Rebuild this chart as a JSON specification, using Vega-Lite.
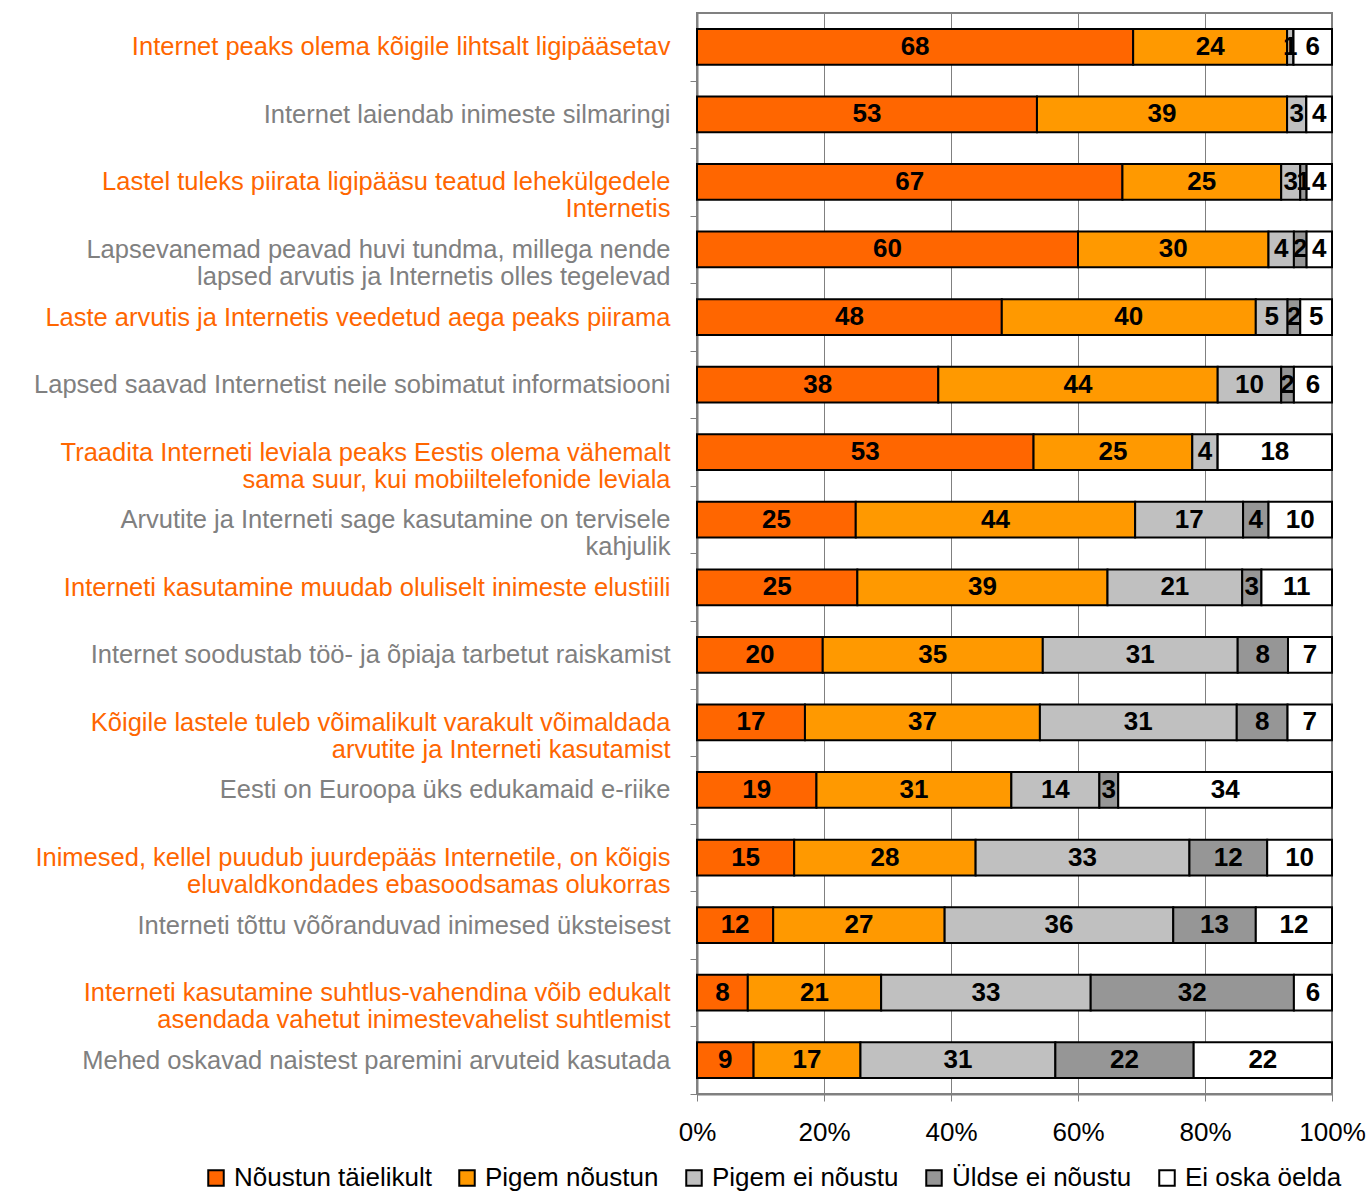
{
  "$schema": "https://vega.github.io/schema/vega-lite/v6.json",
  "width": 635,
  "height": 1081,
  "autosize": {"type": "none"},
  "padding": {"left": 697, "top": 13, "right": 38, "bottom": 100},
  "background": "white",
  "config": {
    "font": "Liberation Sans",
    "view": {"stroke": "#808080", "strokeWidth": 2},
    "legend": {"orient": "none", "legendX": -494, "legendY": 1152, "direction": "horizontal", "columns": 5}
  },
  "datasets": {
    "rows": [
      {"q": "01 Internet peaks olema kõigile lihtsalt ligipääsetav", "cat": "Nõustun täielikult", "k": 1, "v": 68},
      {"q": "01 Internet peaks olema kõigile lihtsalt ligipääsetav", "cat": "Pigem nõustun", "k": 2, "v": 24},
      {"q": "01 Internet peaks olema kõigile lihtsalt ligipääsetav", "cat": "Pigem ei nõustu", "k": 3, "v": 1},
      {"q": "01 Internet peaks olema kõigile lihtsalt ligipääsetav", "cat": "Üldse ei nõustu", "k": 4, "v": 0},
      {"q": "01 Internet peaks olema kõigile lihtsalt ligipääsetav", "cat": "Ei oska öelda", "k": 5, "v": 6},
      {"q": "02 Internet laiendab inimeste silmaringi", "cat": "Nõustun täielikult", "k": 1, "v": 53},
      {"q": "02 Internet laiendab inimeste silmaringi", "cat": "Pigem nõustun", "k": 2, "v": 39},
      {"q": "02 Internet laiendab inimeste silmaringi", "cat": "Pigem ei nõustu", "k": 3, "v": 3},
      {"q": "02 Internet laiendab inimeste silmaringi", "cat": "Üldse ei nõustu", "k": 4, "v": 0},
      {"q": "02 Internet laiendab inimeste silmaringi", "cat": "Ei oska öelda", "k": 5, "v": 4},
      {"q": "03 Lastel tuleks piirata ligipääsu teatud lehekülgedele|Internetis", "cat": "Nõustun täielikult", "k": 1, "v": 67},
      {"q": "03 Lastel tuleks piirata ligipääsu teatud lehekülgedele|Internetis", "cat": "Pigem nõustun", "k": 2, "v": 25},
      {"q": "03 Lastel tuleks piirata ligipääsu teatud lehekülgedele|Internetis", "cat": "Pigem ei nõustu", "k": 3, "v": 3},
      {"q": "03 Lastel tuleks piirata ligipääsu teatud lehekülgedele|Internetis", "cat": "Üldse ei nõustu", "k": 4, "v": 1},
      {"q": "03 Lastel tuleks piirata ligipääsu teatud lehekülgedele|Internetis", "cat": "Ei oska öelda", "k": 5, "v": 4},
      {"q": "04 Lapsevanemad peavad huvi tundma, millega nende|lapsed arvutis ja Internetis olles tegelevad", "cat": "Nõustun täielikult", "k": 1, "v": 60},
      {"q": "04 Lapsevanemad peavad huvi tundma, millega nende|lapsed arvutis ja Internetis olles tegelevad", "cat": "Pigem nõustun", "k": 2, "v": 30},
      {"q": "04 Lapsevanemad peavad huvi tundma, millega nende|lapsed arvutis ja Internetis olles tegelevad", "cat": "Pigem ei nõustu", "k": 3, "v": 4},
      {"q": "04 Lapsevanemad peavad huvi tundma, millega nende|lapsed arvutis ja Internetis olles tegelevad", "cat": "Üldse ei nõustu", "k": 4, "v": 2},
      {"q": "04 Lapsevanemad peavad huvi tundma, millega nende|lapsed arvutis ja Internetis olles tegelevad", "cat": "Ei oska öelda", "k": 5, "v": 4},
      {"q": "05 Laste arvutis ja Internetis veedetud aega peaks piirama", "cat": "Nõustun täielikult", "k": 1, "v": 48},
      {"q": "05 Laste arvutis ja Internetis veedetud aega peaks piirama", "cat": "Pigem nõustun", "k": 2, "v": 40},
      {"q": "05 Laste arvutis ja Internetis veedetud aega peaks piirama", "cat": "Pigem ei nõustu", "k": 3, "v": 5},
      {"q": "05 Laste arvutis ja Internetis veedetud aega peaks piirama", "cat": "Üldse ei nõustu", "k": 4, "v": 2},
      {"q": "05 Laste arvutis ja Internetis veedetud aega peaks piirama", "cat": "Ei oska öelda", "k": 5, "v": 5},
      {"q": "06 Lapsed saavad Internetist neile sobimatut informatsiooni", "cat": "Nõustun täielikult", "k": 1, "v": 38},
      {"q": "06 Lapsed saavad Internetist neile sobimatut informatsiooni", "cat": "Pigem nõustun", "k": 2, "v": 44},
      {"q": "06 Lapsed saavad Internetist neile sobimatut informatsiooni", "cat": "Pigem ei nõustu", "k": 3, "v": 10},
      {"q": "06 Lapsed saavad Internetist neile sobimatut informatsiooni", "cat": "Üldse ei nõustu", "k": 4, "v": 2},
      {"q": "06 Lapsed saavad Internetist neile sobimatut informatsiooni", "cat": "Ei oska öelda", "k": 5, "v": 6},
      {"q": "07 Traadita Interneti leviala peaks Eestis olema vähemalt|sama suur, kui mobiiltelefonide leviala", "cat": "Nõustun täielikult", "k": 1, "v": 53},
      {"q": "07 Traadita Interneti leviala peaks Eestis olema vähemalt|sama suur, kui mobiiltelefonide leviala", "cat": "Pigem nõustun", "k": 2, "v": 25},
      {"q": "07 Traadita Interneti leviala peaks Eestis olema vähemalt|sama suur, kui mobiiltelefonide leviala", "cat": "Pigem ei nõustu", "k": 3, "v": 4},
      {"q": "07 Traadita Interneti leviala peaks Eestis olema vähemalt|sama suur, kui mobiiltelefonide leviala", "cat": "Üldse ei nõustu", "k": 4, "v": 0},
      {"q": "07 Traadita Interneti leviala peaks Eestis olema vähemalt|sama suur, kui mobiiltelefonide leviala", "cat": "Ei oska öelda", "k": 5, "v": 18},
      {"q": "08 Arvutite ja Interneti sage kasutamine on tervisele|kahjulik", "cat": "Nõustun täielikult", "k": 1, "v": 25},
      {"q": "08 Arvutite ja Interneti sage kasutamine on tervisele|kahjulik", "cat": "Pigem nõustun", "k": 2, "v": 44},
      {"q": "08 Arvutite ja Interneti sage kasutamine on tervisele|kahjulik", "cat": "Pigem ei nõustu", "k": 3, "v": 17},
      {"q": "08 Arvutite ja Interneti sage kasutamine on tervisele|kahjulik", "cat": "Üldse ei nõustu", "k": 4, "v": 4},
      {"q": "08 Arvutite ja Interneti sage kasutamine on tervisele|kahjulik", "cat": "Ei oska öelda", "k": 5, "v": 10},
      {"q": "09 Interneti kasutamine muudab oluliselt inimeste elustiili", "cat": "Nõustun täielikult", "k": 1, "v": 25},
      {"q": "09 Interneti kasutamine muudab oluliselt inimeste elustiili", "cat": "Pigem nõustun", "k": 2, "v": 39},
      {"q": "09 Interneti kasutamine muudab oluliselt inimeste elustiili", "cat": "Pigem ei nõustu", "k": 3, "v": 21},
      {"q": "09 Interneti kasutamine muudab oluliselt inimeste elustiili", "cat": "Üldse ei nõustu", "k": 4, "v": 3},
      {"q": "09 Interneti kasutamine muudab oluliselt inimeste elustiili", "cat": "Ei oska öelda", "k": 5, "v": 11},
      {"q": "10 Internet soodustab töö- ja õpiaja tarbetut raiskamist", "cat": "Nõustun täielikult", "k": 1, "v": 20},
      {"q": "10 Internet soodustab töö- ja õpiaja tarbetut raiskamist", "cat": "Pigem nõustun", "k": 2, "v": 35},
      {"q": "10 Internet soodustab töö- ja õpiaja tarbetut raiskamist", "cat": "Pigem ei nõustu", "k": 3, "v": 31},
      {"q": "10 Internet soodustab töö- ja õpiaja tarbetut raiskamist", "cat": "Üldse ei nõustu", "k": 4, "v": 8},
      {"q": "10 Internet soodustab töö- ja õpiaja tarbetut raiskamist", "cat": "Ei oska öelda", "k": 5, "v": 7},
      {"q": "11 Kõigile lastele tuleb võimalikult varakult võimaldada|arvutite ja Interneti kasutamist", "cat": "Nõustun täielikult", "k": 1, "v": 17},
      {"q": "11 Kõigile lastele tuleb võimalikult varakult võimaldada|arvutite ja Interneti kasutamist", "cat": "Pigem nõustun", "k": 2, "v": 37},
      {"q": "11 Kõigile lastele tuleb võimalikult varakult võimaldada|arvutite ja Interneti kasutamist", "cat": "Pigem ei nõustu", "k": 3, "v": 31},
      {"q": "11 Kõigile lastele tuleb võimalikult varakult võimaldada|arvutite ja Interneti kasutamist", "cat": "Üldse ei nõustu", "k": 4, "v": 8},
      {"q": "11 Kõigile lastele tuleb võimalikult varakult võimaldada|arvutite ja Interneti kasutamist", "cat": "Ei oska öelda", "k": 5, "v": 7},
      {"q": "12 Eesti on Euroopa üks edukamaid e-riike", "cat": "Nõustun täielikult", "k": 1, "v": 19},
      {"q": "12 Eesti on Euroopa üks edukamaid e-riike", "cat": "Pigem nõustun", "k": 2, "v": 31},
      {"q": "12 Eesti on Euroopa üks edukamaid e-riike", "cat": "Pigem ei nõustu", "k": 3, "v": 14},
      {"q": "12 Eesti on Euroopa üks edukamaid e-riike", "cat": "Üldse ei nõustu", "k": 4, "v": 3},
      {"q": "12 Eesti on Euroopa üks edukamaid e-riike", "cat": "Ei oska öelda", "k": 5, "v": 34},
      {"q": "13 Inimesed, kellel puudub juurdepääs Internetile, on kõigis|eluvaldkondades ebasoodsamas olukorras", "cat": "Nõustun täielikult", "k": 1, "v": 15},
      {"q": "13 Inimesed, kellel puudub juurdepääs Internetile, on kõigis|eluvaldkondades ebasoodsamas olukorras", "cat": "Pigem nõustun", "k": 2, "v": 28},
      {"q": "13 Inimesed, kellel puudub juurdepääs Internetile, on kõigis|eluvaldkondades ebasoodsamas olukorras", "cat": "Pigem ei nõustu", "k": 3, "v": 33},
      {"q": "13 Inimesed, kellel puudub juurdepääs Internetile, on kõigis|eluvaldkondades ebasoodsamas olukorras", "cat": "Üldse ei nõustu", "k": 4, "v": 12},
      {"q": "13 Inimesed, kellel puudub juurdepääs Internetile, on kõigis|eluvaldkondades ebasoodsamas olukorras", "cat": "Ei oska öelda", "k": 5, "v": 10},
      {"q": "14 Interneti tõttu võõranduvad inimesed üksteisest", "cat": "Nõustun täielikult", "k": 1, "v": 12},
      {"q": "14 Interneti tõttu võõranduvad inimesed üksteisest", "cat": "Pigem nõustun", "k": 2, "v": 27},
      {"q": "14 Interneti tõttu võõranduvad inimesed üksteisest", "cat": "Pigem ei nõustu", "k": 3, "v": 36},
      {"q": "14 Interneti tõttu võõranduvad inimesed üksteisest", "cat": "Üldse ei nõustu", "k": 4, "v": 13},
      {"q": "14 Interneti tõttu võõranduvad inimesed üksteisest", "cat": "Ei oska öelda", "k": 5, "v": 12},
      {"q": "15 Interneti kasutamine suhtlus-vahendina võib edukalt|asendada vahetut inimestevahelist suhtlemist", "cat": "Nõustun täielikult", "k": 1, "v": 8},
      {"q": "15 Interneti kasutamine suhtlus-vahendina võib edukalt|asendada vahetut inimestevahelist suhtlemist", "cat": "Pigem nõustun", "k": 2, "v": 21},
      {"q": "15 Interneti kasutamine suhtlus-vahendina võib edukalt|asendada vahetut inimestevahelist suhtlemist", "cat": "Pigem ei nõustu", "k": 3, "v": 33},
      {"q": "15 Interneti kasutamine suhtlus-vahendina võib edukalt|asendada vahetut inimestevahelist suhtlemist", "cat": "Üldse ei nõustu", "k": 4, "v": 32},
      {"q": "15 Interneti kasutamine suhtlus-vahendina võib edukalt|asendada vahetut inimestevahelist suhtlemist", "cat": "Ei oska öelda", "k": 5, "v": 6},
      {"q": "16 Mehed oskavad naistest paremini arvuteid kasutada", "cat": "Nõustun täielikult", "k": 1, "v": 9},
      {"q": "16 Mehed oskavad naistest paremini arvuteid kasutada", "cat": "Pigem nõustun", "k": 2, "v": 17},
      {"q": "16 Mehed oskavad naistest paremini arvuteid kasutada", "cat": "Pigem ei nõustu", "k": 3, "v": 31},
      {"q": "16 Mehed oskavad naistest paremini arvuteid kasutada", "cat": "Üldse ei nõustu", "k": 4, "v": 22},
      {"q": "16 Mehed oskavad naistest paremini arvuteid kasutada", "cat": "Ei oska öelda", "k": 5, "v": 22}
    ]
  },
  "data": {"name": "rows"},
  "transform": [
    {"stack": "v", "groupby": ["q"], "sort": [{"field": "k", "order": "ascending"}], "offset": "normalize", "as": ["x0", "x1"]},
    {"calculate": "(datum.x0 + datum.x1) / 2", "as": "xm"}
  ],
  "encoding": {
    "y": {
      "field": "q",
      "type": "nominal",
      "sort": "ascending",
      "scale": {"paddingInner": 0.47, "paddingOuter": 0.235},
      "axis": {
        "title": null,
        "labelExpr": "split(substring(datum.label, 3), '|')",
        "labelFontSize": 25.5,
        "labelLineHeight": 27,
        "labelLimit": 700,
        "labelPadding": 20,
        "labelColor": {"condition": {"test": "parseInt(substring(datum.value, 0, 2)) % 2 == 1", "value": "#FF6600"}, "value": "#808080"},
        "tickOffset": 33.78,
        "labelOffset": -33.78,
        "tickSize": 7,
        "tickColor": "#808080",
        "domainColor": "#808080",
        "domainWidth": 2,
        "grid": false
      }
    }
  },
  "layer": [
    {
      "mark": {"type": "bar", "stroke": "black", "strokeWidth": 2},
      "encoding": {
        "x": {
          "field": "x0",
          "type": "quantitative",
          "scale": {"domain": [0, 1]},
          "axis": {
            "title": null,
            "format": ".0%",
            "values": [0, 0.2, 0.4, 0.6, 0.8, 1],
            "labelFontSize": 26,
            "labelColor": "black",
            "labelPadding": 18,
            "labelFlush": false,
            "tickSize": 7,
            "tickColor": "#808080",
            "domainColor": "#808080",
            "domainWidth": 2,
            "grid": true,
            "gridColor": "#808080",
            "gridWidth": 1,
            "gridOpacity": 1
          }
        },
        "x2": {"field": "x1"},
        "color": {
          "field": "cat",
          "type": "nominal",
          "sort": ["Nõustun täielikult", "Pigem nõustun", "Pigem ei nõustu", "Üldse ei nõustu", "Ei oska öelda"],
          "scale": {
            "domain": ["Nõustun täielikult", "Pigem nõustun", "Pigem ei nõustu", "Üldse ei nõustu", "Ei oska öelda"],
            "range": ["#FF6600", "#FF9900", "#C0C0C0", "#969696", "#FFFFFF"]
          },
          "legend": {
            "title": null,
            "symbolType": "square",
            "symbolSize": 240,
            "symbolStrokeColor": "black",
            "symbolStrokeWidth": 2,
            "symbolOpacity": 1,
            "labelFontSize": 26,
            "labelColor": "black",
            "labelOffset": 5,
            "columnPadding": 22,
            "labelLimit": 400
          }
        }
      }
    },
    {
      "transform": [{"filter": "datum.v > 0"}],
      "mark": {"type": "text", "fontSize": 26, "fontWeight": "bold", "color": "black", "baseline": "middle", "align": "center", "dy": 0},
      "encoding": {
        "x": {"field": "xm", "type": "quantitative"},
        "text": {"field": "v", "type": "quantitative"}
      }
    }
  ]
}
